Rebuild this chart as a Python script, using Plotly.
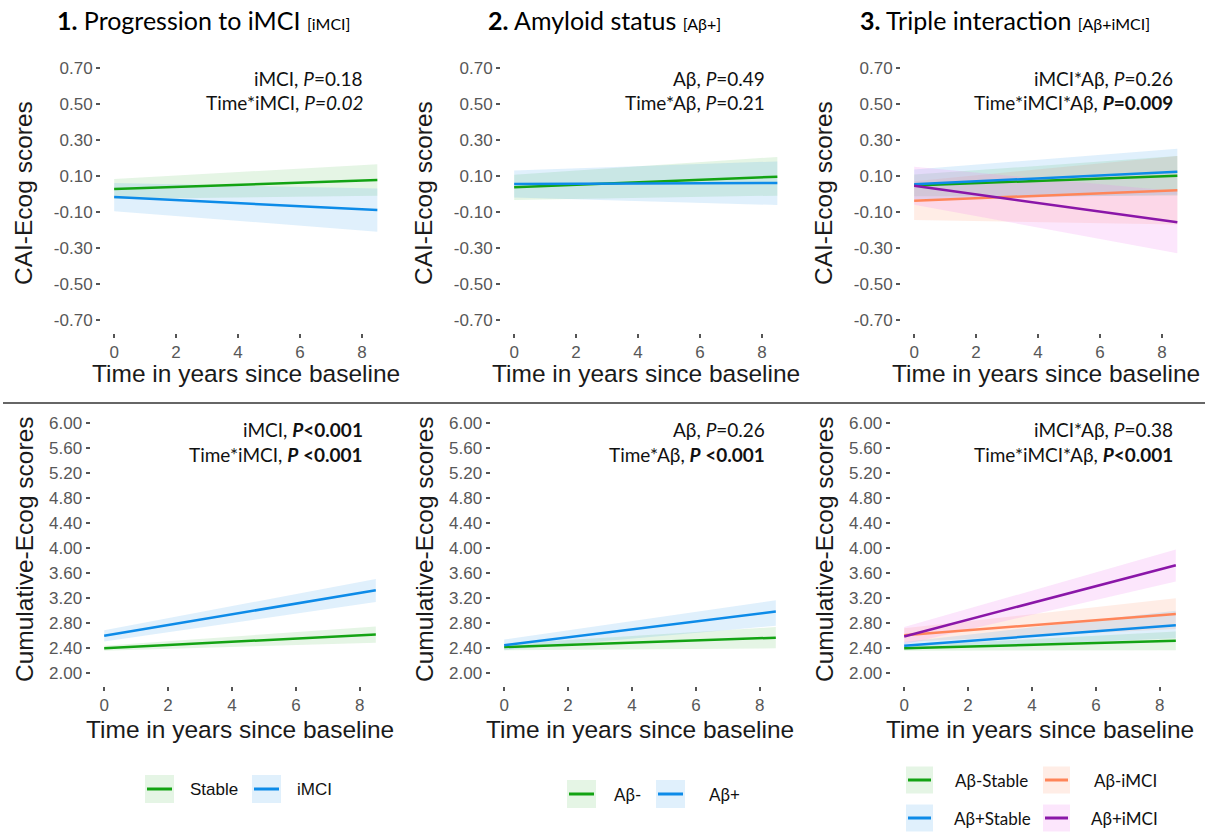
import plotly.graph_objects as go

W, H = 1212, 833

# ---------------- data ----------------
TIME = [0, 8.5]
X_TICKS = [0, 2, 4, 6, 8]
CAI_TICKS = [-0.70, -0.50, -0.30, -0.10, 0.10, 0.30, 0.50, 0.70]
CUM_TICKS = [2.00, 2.40, 2.80, 3.20, 3.60, 4.00, 4.40, 4.80, 5.20, 5.60, 6.00]

# Panel 1 (CAI-Ecog, progression to iMCI)
CAI1_STABLE = [0.027, 0.077]
CAI1_STABLE_LO = [-0.028, -0.010]
CAI1_STABLE_HI = [0.082, 0.164]
CAI1_IMCI = [-0.018, -0.090]
CAI1_IMCI_LO = [-0.096, -0.210]
CAI1_IMCI_HI = [0.060, 0.030]

# Panel 2 (CAI-Ecog, amyloid status)
CAI2_ABNEG = [0.036, 0.095]
CAI2_ABNEG_LO = [-0.034, -0.010]
CAI2_ABNEG_HI = [0.106, 0.205]
CAI2_ABPOS = [0.055, 0.060]
CAI2_ABPOS_LO = [-0.020, -0.062]
CAI2_ABPOS_HI = [0.130, 0.180]

# Panel 3 (CAI-Ecog, triple interaction)
CAI3_NEG_STABLE = [0.047, 0.100]
CAI3_NEG_STABLE_LO = [-0.013, -0.010]
CAI3_NEG_STABLE_HI = [0.107, 0.210]
CAI3_NEG_IMCI = [-0.038, 0.020]
CAI3_NEG_IMCI_LO = [-0.145, -0.170]
CAI3_NEG_IMCI_HI = [0.070, 0.210]
CAI3_POS_STABLE = [0.053, 0.123]
CAI3_POS_STABLE_LO = [-0.030, -0.005]
CAI3_POS_STABLE_HI = [0.135, 0.250]
CAI3_POS_IMCI = [0.045, -0.158]
CAI3_POS_IMCI_LO = [-0.060, -0.330]
CAI3_POS_IMCI_HI = [0.150, 0.015]

# Panel 4 (Cumulative-Ecog, progression to iMCI)
CUM1_STABLE = [2.40, 2.62]
CUM1_STABLE_LO = [2.36, 2.49]
CUM1_STABLE_HI = [2.44, 2.75]
CUM1_IMCI = [2.60, 3.33]
CUM1_IMCI_LO = [2.51, 3.14]
CUM1_IMCI_HI = [2.69, 3.51]

# Panel 5 (Cumulative-Ecog, amyloid status)
CUM2_ABNEG = [2.42, 2.57]
CUM2_ABNEG_LO = [2.37, 2.40]
CUM2_ABNEG_HI = [2.47, 2.74]
CUM2_ABPOS = [2.45, 2.99]
CUM2_ABPOS_LO = [2.37, 2.76]
CUM2_ABPOS_HI = [2.54, 3.17]

# Panel 6 (Cumulative-Ecog, triple interaction)
CUM3_NEG_STABLE = [2.40, 2.52]
CUM3_NEG_STABLE_LO = [2.36, 2.37]
CUM3_NEG_STABLE_HI = [2.44, 2.67]
CUM3_NEG_IMCI = [2.61, 2.95]
CUM3_NEG_IMCI_LO = [2.50, 2.71]
CUM3_NEG_IMCI_HI = [2.72, 3.20]
CUM3_POS_STABLE = [2.44, 2.77]
CUM3_POS_STABLE_LO = [2.38, 2.56]
CUM3_POS_STABLE_HI = [2.50, 3.00]
CUM3_POS_IMCI = [2.59, 3.73]
CUM3_POS_IMCI_LO = [2.46, 3.47]
CUM3_POS_IMCI_HI = [2.74, 3.98]

PANEL_TITLES = ["<b>1.</b> Progression to iMCI <span style='font-size:16px'>[iMCI]</span>",
                "<b>2.</b> Amyloid status <span style='font-size:16px'>[Aβ+]</span>",
                "<b>3.</b> Triple interaction <span style='font-size:16px'>[Aβ+iMCI]</span>"]
STATS = [
    ["iMCI, <i>P</i>=0.18", "Time*iMCI, <i>P=0.02</i>"],
    ["Aβ, <i>P</i>=0.49", "Time*Aβ, <i>P</i>=0.21"],
    ["iMCI*Aβ, <i>P</i>=0.26", "Time*iMCI*Aβ, <b><i>P</i>=0.009</b>"],
    ["iMCI, <b><i>P</i>&lt;0.001</b>", "Time*iMCI, <b><i>P</i> &lt;0.001</b>"],
    ["Aβ, <i>P</i>=0.26", "Time*Aβ, <b><i>P</i> &lt;0.001</b>"],
    ["iMCI*Aβ, <i>P</i>=0.38", "Time*iMCI*Aβ, <b><i>P</i>&lt;0.001</b>"],
]
LEGEND1 = ["Stable", "iMCI"]
LEGEND2 = ["Aβ-", "Aβ+"]
LEGEND3 = ["Aβ-Stable", "Aβ-iMCI", "Aβ+Stable", "Aβ+iMCI"]

# ---------------- styles ----------------
GREEN = "#13A313"
BLUE = "#0D8BE8"
ORANGE = "#FF8559"
PURPLE = "#8A16A8"
F_GREEN = "rgba(19,163,19,0.11)"
F_BLUE = "rgba(13,139,232,0.13)"
F_ORANGE = "rgba(255,133,89,0.15)"
F_PURPLE = "rgba(238,130,238,0.20)"

def px_x(x):
    return x / W

def px_y(y):
    return 1 - y / H

# panel pixel boxes (left, right, top, bottom)
TOP_Y = (55.1, 332.6)
BOT_Y = (410.8, 685.8)
TOP_X = [(101, 390.5), (501, 790.5), (901, 1190.5)]
BOT_X = [(90.6, 389.4), (490.6, 789.4), (890.6, 1189.4)]

fig = go.Figure()

def add_group(idx, mid, lo, hi, color, fill):
    xa = "x" if idx == 1 else f"x{idx}"
    ya = "y" if idx == 1 else f"y{idx}"
    fig.add_trace(go.Scatter(x=TIME + TIME[::-1], y=hi + lo[::-1], fill="toself",
                             fillcolor=fill, line=dict(width=0), mode="lines",
                             hoverinfo="skip", showlegend=False, xaxis=xa, yaxis=ya))
    return (xa, ya, mid, color)

panels = {
    1: [(CAI1_STABLE, CAI1_STABLE_LO, CAI1_STABLE_HI, GREEN, F_GREEN),
        (CAI1_IMCI, CAI1_IMCI_LO, CAI1_IMCI_HI, BLUE, F_BLUE)],
    2: [(CAI2_ABNEG, CAI2_ABNEG_LO, CAI2_ABNEG_HI, GREEN, F_GREEN),
        (CAI2_ABPOS, CAI2_ABPOS_LO, CAI2_ABPOS_HI, BLUE, F_BLUE)],
    3: [(CAI3_NEG_STABLE, CAI3_NEG_STABLE_LO, CAI3_NEG_STABLE_HI, GREEN, F_GREEN),
        (CAI3_NEG_IMCI, CAI3_NEG_IMCI_LO, CAI3_NEG_IMCI_HI, ORANGE, F_ORANGE),
        (CAI3_POS_STABLE, CAI3_POS_STABLE_LO, CAI3_POS_STABLE_HI, BLUE, F_BLUE),
        (CAI3_POS_IMCI, CAI3_POS_IMCI_LO, CAI3_POS_IMCI_HI, PURPLE, F_PURPLE)],
    4: [(CUM1_STABLE, CUM1_STABLE_LO, CUM1_STABLE_HI, GREEN, F_GREEN),
        (CUM1_IMCI, CUM1_IMCI_LO, CUM1_IMCI_HI, BLUE, F_BLUE)],
    5: [(CUM2_ABNEG, CUM2_ABNEG_LO, CUM2_ABNEG_HI, GREEN, F_GREEN),
        (CUM2_ABPOS, CUM2_ABPOS_LO, CUM2_ABPOS_HI, BLUE, F_BLUE)],
    6: [(CUM3_NEG_STABLE, CUM3_NEG_STABLE_LO, CUM3_NEG_STABLE_HI, GREEN, F_GREEN),
        (CUM3_NEG_IMCI, CUM3_NEG_IMCI_LO, CUM3_NEG_IMCI_HI, ORANGE, F_ORANGE),
        (CUM3_POS_STABLE, CUM3_POS_STABLE_LO, CUM3_POS_STABLE_HI, BLUE, F_BLUE),
        (CUM3_POS_IMCI, CUM3_POS_IMCI_LO, CUM3_POS_IMCI_HI, PURPLE, F_PURPLE)],
}

for idx, groups in panels.items():
    lines = [add_group(idx, *g[:3], g[3], g[4]) for g in groups]
    for xa, ya, mid, color in lines:
        fig.add_trace(go.Scatter(x=TIME, y=mid, mode="lines", line=dict(color=color, width=2.5),
                                 hoverinfo="skip", showlegend=False, xaxis=xa, yaxis=ya))

TICKFONT = dict(family="Liberation Sans, Arial, sans-serif", size=17, color="#575757")
layout_axes = {}
for i in range(6):
    n = i + 1
    xk = "xaxis" if n == 1 else f"xaxis{n}"
    yk = "yaxis" if n == 1 else f"yaxis{n}"
    top = i < 3
    xl, xr = (TOP_X if top else BOT_X)[i % 3]
    yt, yb = TOP_Y if top else BOT_Y
    layout_axes[xk] = dict(domain=[px_x(xl), px_x(xr)], range=[-0.425, 8.925],
                           anchor="y" if n == 1 else f"y{n}",
                           tickvals=X_TICKS, ticks="outside", ticklen=4, tickwidth=1.5,
                           tickcolor="#555555", tickfont=TICKFONT, showgrid=False,
                           zeroline=False, showline=False, fixedrange=True)
    if top:
        yr, tv, tt = [-0.77, 0.77], CAI_TICKS, [f"{v:.2f}" for v in CAI_TICKS]
    else:
        yr, tv, tt = [1.8, 6.2], CUM_TICKS, [f"{v:.2f}" for v in CUM_TICKS]
    layout_axes[yk] = dict(domain=[px_y(yb), px_y(yt)], range=yr,
                           anchor="x" if n == 1 else f"x{n}",
                           tickvals=tv, ticktext=tt, ticks="outside", ticklen=4, tickwidth=1.5,
                           tickcolor="#555555", tickfont=TICKFONT, showgrid=False,
                           zeroline=False, showline=False, fixedrange=True)

fig.update_layout(width=W, height=H, margin=dict(l=0, r=0, t=0, b=0),
                  paper_bgcolor="white", plot_bgcolor="white", showlegend=False,
                  **layout_axes)

annotations = []
shapes = []

def ann(x, y, text, size, family="Lato, sans-serif", color="#111111", xanchor="center",
        yanchor="middle", textangle=0):
    annotations.append(dict(x=px_x(x), y=px_y(y), xref="paper", yref="paper", text=text,
                            showarrow=False, xanchor=xanchor, yanchor=yanchor,
                            textangle=textangle,
                            font=dict(family=family, size=size, color=color)))

AXFONT = "Liberation Sans, Arial, sans-serif"
# panel titles
for cx, t in zip([203, 604, 1005], PANEL_TITLES):
    ann(cx, 20, t, 25, color="#000000")

# axis titles
for i in range(6):
    top = i < 3
    xl, xr = (TOP_X if top else BOT_X)[i % 3]
    ycen = 373 if top else 729
    ann((xl + xr) / 2, ycen, "Time in years since baseline", 24.5, family=AXFONT, color="#1a1a1a")
    ytx = [24, 424, 824][i % 3]
    if top:
        ann(ytx, 193, "CAI-Ecog scores", 24.5, family=AXFONT, color="#1a1a1a", textangle=-90)
    else:
        ann(ytx, 549, "Cumulative-Ecog scores", 24.5, family=AXFONT, color="#1a1a1a", textangle=-90)

# statistics
rights = [365, 767, 1175]
for i, (l1, l2) in enumerate(STATS):
    top = i < 3
    r = rights[i % 3]
    y1, y2 = (78, 103) if top else (429, 454)
    ann(r, y1, l1, 19, xanchor="right")
    ann(r, y2, l2, 19, xanchor="right")

# separator
shapes.append(dict(type="line", xref="paper", yref="paper", x0=px_x(3), x1=px_x(1205),
                   y0=px_y(403), y1=px_y(403), line=dict(color="#333333", width=1.5)))

# legends
def key(x0, x1, yc, fill, color, h=28):
    shapes.append(dict(type="rect", xref="paper", yref="paper", x0=px_x(x0), x1=px_x(x1),
                       y0=px_y(yc + h / 2), y1=px_y(yc - h / 2), fillcolor=fill,
                       line=dict(width=0)))
    shapes.append(dict(type="line", xref="paper", yref="paper", x0=px_x(x0 + 2), x1=px_x(x1 - 2),
                       y0=px_y(yc), y1=px_y(yc), line=dict(color=color, width=3)))

key(145, 174, 789, F_GREEN, GREEN)
ann(188, 789, LEGEND1[0], 17, family=AXFONT, xanchor="left")
key(252, 281, 789, F_BLUE, BLUE)
ann(295, 789, LEGEND1[1], 17, family=AXFONT, xanchor="left")

key(567, 596, 794, F_GREEN, GREEN)
ann(612, 794, LEGEND2[0], 17, xanchor="left")
key(656, 685, 794, F_BLUE, BLUE)
ann(707, 794, LEGEND2[1], 17, xanchor="left")

ROW1, ROW2 = 780, 818
key(906, 933, ROW1, F_GREEN, GREEN, h=27)
ann(953, ROW1, LEGEND3[0], 17, xanchor="left")
key(1043, 1070, ROW1, F_ORANGE, ORANGE, h=27)
ann(1092, ROW1, LEGEND3[1], 17, xanchor="left")
key(906, 933, ROW2, F_BLUE, BLUE, h=27)
ann(952, ROW2, LEGEND3[2], 17, xanchor="left")
key(1043, 1070, ROW2, F_PURPLE, PURPLE, h=27)
ann(1089, ROW2, LEGEND3[3], 17, xanchor="left")

fig.update_layout(annotations=annotations, shapes=shapes)
fig.write_html("out.html")
